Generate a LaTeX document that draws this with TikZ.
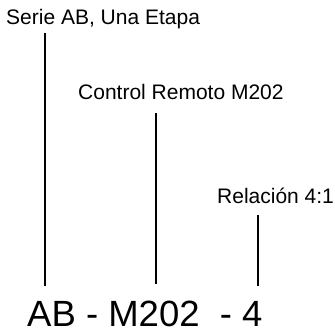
\documentclass[tikz,border=0pt]{standalone}
\usepackage{fontspec}
\setmainfont{Liberation Sans}
\begin{document}
\begin{tikzpicture}[x=1pt,y=-1pt,
  lab/.style={anchor=base west,inner sep=0pt,font=\fontsize{21}{25}\selectfont},
  codetext/.style={anchor=base west,inner sep=0pt,font=\fontsize{36.5}{42}\selectfont},
  conn/.style={draw=black,line width=1.6pt}]
\useasboundingbox (0,0) rectangle (335,332);
\node[lab] (serie) at (6,24) {Serie AB, Una Etapa};
\node[lab] (control) at (78,99) {Control Remoto M202};
\node[lab] (rel) at (217,203) {Relación 4:1};
\node[codetext] (code) at (27,326) {AB - M202~ - 4};
\coordinate (t1) at (45,33);
\coordinate (b1) at (45,286);
\coordinate (t2) at (156,113);
\coordinate (b2) at (156,284);
\coordinate (t3) at (258,215);
\coordinate (b3) at (258,286);
\draw[conn] (t1) -- (b1);
\draw[conn] (t2) -- (b2);
\draw[conn] (t3) -- (b3);
\end{tikzpicture}
\end{document}
